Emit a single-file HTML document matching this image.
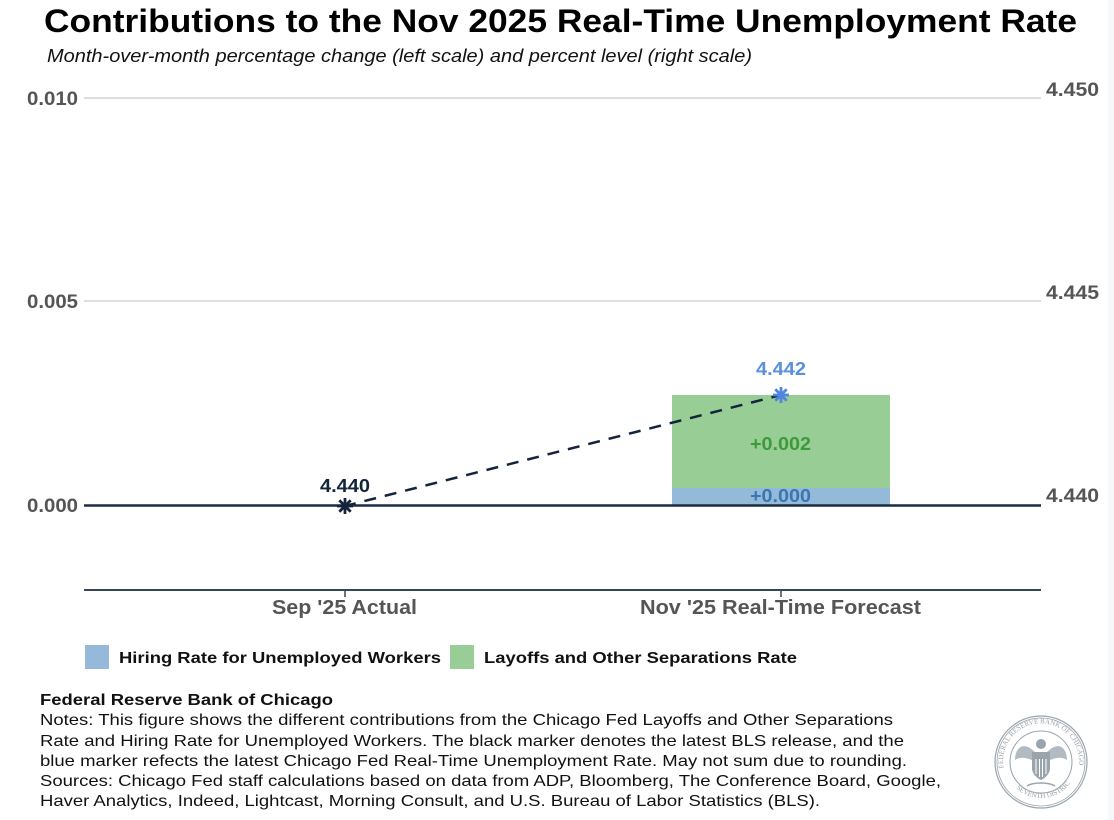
<!DOCTYPE html>
<html>
<head>
<meta charset="utf-8">
<style>
html,body{margin:0;padding:0;background:#fff;}
body{width:1114px;height:820px;overflow:hidden;position:relative;}
svg{display:block;}
</style>
</head>
<body>
<svg width="1114" height="820" viewBox="0 0 1114 820" xmlns="http://www.w3.org/2000/svg" font-family="Liberation Sans, Arial, sans-serif">
  <rect x="0" y="0" width="1114" height="820" fill="#ffffff"/>
  <rect x="1108" y="0" width="6" height="820" fill="#f7f8f9"/>

  <!-- Title -->
  <text x="44" y="32" font-size="32" font-weight="bold" fill="#000" textLength="1033" lengthAdjust="spacingAndGlyphs">Contributions to the Nov 2025 Real-Time Unemployment Rate</text>
  <text x="47" y="62" font-size="18" font-style="italic" fill="#111" textLength="705" lengthAdjust="spacingAndGlyphs">Month-over-month percentage change (left scale) and percent level (right scale)</text>

  <!-- Gridlines -->
  <line x1="84" y1="98" x2="1041" y2="98" stroke="#d3d3d3" stroke-width="1.5"/>
  <line x1="84" y1="301" x2="1041" y2="301" stroke="#d3d3d3" stroke-width="1.5"/>

  <!-- Left axis labels -->
  <g font-size="19" font-weight="bold" fill="#555">
    <text x="27" y="105" textLength="51" lengthAdjust="spacingAndGlyphs">0.010</text>
    <text x="27" y="308" textLength="51" lengthAdjust="spacingAndGlyphs">0.005</text>
    <text x="27" y="512" textLength="51" lengthAdjust="spacingAndGlyphs">0.000</text>
  </g>
  <!-- Right axis labels -->
  <g font-size="19" font-weight="bold" fill="#555">
    <text x="1046" y="96" textLength="53" lengthAdjust="spacingAndGlyphs">4.450</text>
    <text x="1046" y="299" textLength="53" lengthAdjust="spacingAndGlyphs">4.445</text>
    <text x="1046" y="502" textLength="53" lengthAdjust="spacingAndGlyphs">4.440</text>
  </g>

  <!-- Bars -->
  <rect x="672" y="395" width="218" height="93" fill="#99cd96"/>
  <rect x="672" y="488" width="218" height="17" fill="#95b9d8"/>

  <!-- Zero line -->
  <line x1="84" y1="505.5" x2="1041" y2="505.5" stroke="#1b2d40" stroke-width="2.5"/>

  <!-- Bar labels -->
  <text x="750" y="450" font-size="18" font-weight="bold" fill="#3d9a3a" textLength="61" lengthAdjust="spacingAndGlyphs">+0.002</text>
  <text x="750" y="502" font-size="18" font-weight="bold" fill="#3a76b2" textLength="61" lengthAdjust="spacingAndGlyphs">+0.000</text>

  <!-- Dashed line -->
  <line x1="345" y1="506" x2="781" y2="395" stroke="#14243a" stroke-width="2.5" stroke-dasharray="12,9" stroke-dashoffset="-20"/>

  <!-- Black asterisk marker -->
  <g stroke="#14243a" stroke-width="2.8" stroke-linecap="butt">
    <line x1="345" y1="498" x2="345" y2="514"/>
    <line x1="337" y1="506" x2="353" y2="506"/>
    <line x1="339.3" y1="500.3" x2="350.7" y2="511.7"/>
    <line x1="339.3" y1="511.7" x2="350.7" y2="500.3"/>
  </g>
  <!-- Blue asterisk marker -->
  <g stroke="#4f86df" stroke-width="2.8" stroke-linecap="butt">
    <line x1="781" y1="387" x2="781" y2="403"/>
    <line x1="773" y1="395" x2="789" y2="395"/>
    <line x1="775.3" y1="389.3" x2="786.7" y2="400.7"/>
    <line x1="775.3" y1="400.7" x2="786.7" y2="389.3"/>
  </g>

  <!-- Marker labels -->
  <text x="320" y="492" font-size="18" font-weight="bold" fill="#14243a" textLength="50" lengthAdjust="spacingAndGlyphs">4.440</text>
  <text x="756" y="375" font-size="18" font-weight="bold" fill="#5a8fe0" textLength="50" lengthAdjust="spacingAndGlyphs">4.442</text>

  <!-- X axis -->
  <line x1="84" y1="590" x2="1041" y2="590" stroke="#34475a" stroke-width="2"/>
  <line x1="345" y1="590" x2="345" y2="597" stroke="#34475a" stroke-width="1.5"/>
  <line x1="781" y1="590" x2="781" y2="597" stroke="#34475a" stroke-width="1.5"/>
  <g font-size="20" font-weight="bold" fill="#555">
    <text x="272" y="614" textLength="145" lengthAdjust="spacingAndGlyphs">Sep '25 Actual</text>
    <text x="640" y="614" textLength="281" lengthAdjust="spacingAndGlyphs">Nov '25 Real-Time Forecast</text>
  </g>

  <!-- Legend -->
  <rect x="85" y="645" width="24" height="24" fill="#95b9d8"/>
  <text x="119" y="663" font-size="16" font-weight="bold" fill="#111" textLength="322" lengthAdjust="spacingAndGlyphs">Hiring Rate for Unemployed Workers</text>
  <rect x="450" y="645" width="24" height="24" fill="#99cd96"/>
  <text x="484" y="663" font-size="16" font-weight="bold" fill="#111" textLength="313" lengthAdjust="spacingAndGlyphs">Layoffs and Other Separations Rate</text>

  <!-- Footer -->
  <g font-size="16" fill="#111">
    <text x="40" y="705" font-weight="bold" textLength="293" lengthAdjust="spacingAndGlyphs">Federal Reserve Bank of Chicago</text>
    <text x="40" y="725" textLength="853" lengthAdjust="spacingAndGlyphs">Notes: This figure shows the different contributions from the Chicago Fed Layoffs and Other Separations</text>
    <text x="40" y="746" textLength="864" lengthAdjust="spacingAndGlyphs">Rate and Hiring Rate for Unemployed Workers. The black marker denotes the latest BLS release, and the</text>
    <text x="40" y="766" textLength="867" lengthAdjust="spacingAndGlyphs">blue marker refects the latest Chicago Fed Real-Time Unemployment Rate. May not sum due to rounding.</text>
    <text x="40" y="786" textLength="901" lengthAdjust="spacingAndGlyphs">Sources: Chicago Fed staff calculations based on data from ADP, Bloomberg, The Conference Board, Google,</text>
    <text x="40" y="806" textLength="780" lengthAdjust="spacingAndGlyphs">Haver Analytics, Indeed, Lightcast, Morning Consult, and U.S. Bureau of Labor Statistics (BLS).</text>
  </g>

  <!-- Seal -->
  <g transform="translate(1041,762)" fill="none" stroke="#9aa4ad">
    <circle r="46" stroke-width="1.2"/>
    <circle r="44" stroke-width="0.8"/>
    <circle r="31" stroke-width="1"/>
    <defs>
      <path id="sealarc" d="M -37 8 A 38 38 0 1 1 37 8"/>
      <path id="sealarc2" d="M -30 20 A 36 36 0 0 0 30 20"/>
    </defs>
    <text font-size="7" fill="#9aa4ad" stroke="none" font-family="Liberation Serif, serif"><textPath href="#sealarc" startOffset="2">FEDERAL RESERVE BANK OF CHICAGO</textPath></text>
    <text font-size="7" fill="#9aa4ad" stroke="none" font-family="Liberation Serif, serif"><textPath href="#sealarc2" startOffset="8">SEVENTH DISTRICT</textPath></text>
    <path d="M -6 -10 C -18 -22 -26 -14 -26 -2 C -20 -6 -14 -4 -9 -2 Z" fill="#b3bbc2" stroke="none"/>
    <path d="M 6 -10 C 18 -22 26 -14 26 -2 C 20 -6 14 -4 9 -2 Z" fill="#b3bbc2" stroke="none"/>
    <circle cx="0" cy="-18" r="5" fill="#9aa4ad" stroke="none"/>
    <path d="M -9 -10 L 9 -10 L 9 6 C 9 14 0 18 0 18 C 0 18 -9 14 -9 6 Z" fill="#9aa4ad" stroke="none"/>
    <g stroke="#ffffff" stroke-width="1">
      <line x1="-5" y1="-3" x2="-5" y2="12"/>
      <line x1="-1.5" y1="-3" x2="-1.5" y2="15"/>
      <line x1="1.5" y1="-3" x2="1.5" y2="15"/>
      <line x1="5" y1="-3" x2="5" y2="12"/>
    </g>
    <path d="M -14 24 C -8 20 8 20 14 24" stroke-width="1.5"/>
  </g>
</svg>
</body>
</html>
